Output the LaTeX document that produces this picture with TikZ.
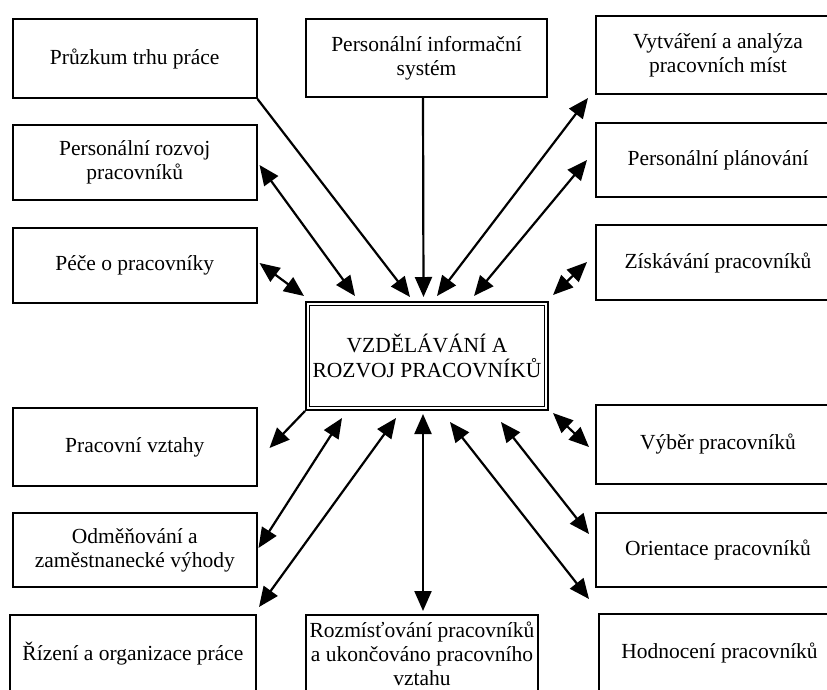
\documentclass[tikz,border=0pt]{standalone}
\usepackage{fontspec}
\setmainfont{Liberation Serif}
\usetikzlibrary{arrows.meta,calc}
\begin{document}
\begin{tikzpicture}[x=1pt,y=-1pt,
  box/.style={draw, line width=2pt, inner sep=0pt, align=center,
    font=\fontsize{21.5}{24}\selectfont},
  lbox/.style={box, minimum width=243.5pt, minimum height=78pt},
  rbox/.style={box, minimum width=244pt, minimum height=78pt},
  arr/.style={line width=2.2pt, -{Triangle[length=20pt,width=17pt]}},
  darr/.style={line width=2.2pt, {Triangle[length=20pt,width=17pt]}-{Triangle[length=20pt,width=17pt]}}]
\useasboundingbox (0,0) rectangle (827,689);
\fill[white] (0,0) rectangle (827,689);
\begin{scope}
\clip (0,0) rectangle (827,689);
% left column
\node[lbox, minimum height=79pt] (p1) at (134.75,58.5) {Průzkum trhu práce};
\node[lbox, minimum height=75pt] (p2) at (134.75,162.5) {Personální rozvoj\\pracovníků};
\node[lbox, minimum height=75pt] (p3) at (134.75,265.5) {Péče o pracovníky};
\node[lbox] (p4) at (134.75,447) {Pracovní vztahy};
\node[lbox, minimum height=74pt] (p5) at (134.75,550) {Odměňování a\\zaměstnanecké výhody};
\node[lbox, minimum width=246pt] (p6) at (133,654) {Řízení a organizace práce};
% middle column
\node[box, minimum width=241pt, minimum height=78pt] (t) at (426.5,58) {Personální informační\\systém};
\node[box, minimum width=242pt, minimum height=108pt,
  font=\fontsize{21.5}{25}\selectfont] (c) at (427,356) {VZDĚLÁVÁNÍ A\\ROZVOJ PRACOVNÍKŮ};
\draw[line width=0.9pt] ($(c.north west)+(4.5,4.5)$) rectangle ($(c.south east)+(-4.5,-4.5)$);
\node[box, minimum width=232pt, minimum height=78pt] (b) at (422,654) {Rozmísťování pracovníků\\a ukončováno pracovního\\vztahu};
% right column
\node[rbox] (r1) at (718,55) {Vytváření a analýza\\pracovních míst};
\node[rbox, minimum height=74pt] (r2) at (718,160) {Personální plánování};
\node[rbox, minimum height=75pt] (r3) at (718,262.5) {Získávání pracovníků};
\node[rbox, minimum height=79pt] (r4) at (718,444.5) {Výběr pracovníků};
\node[rbox, minimum height=74pt] (r5) at (718,550) {Orientace pracovníků};
\node[rbox, minimum width=241pt] (r6) at (719.5,653) {Hodnocení pracovníků};
\end{scope}
% connectors, upper half
\draw[arr] (p1.south east) -- ($(c.north)+(-17,-4)$);
\draw[darr] ($(p2.east)+(2,2.5)$) -- ($(c.north west)+(50,-5)$);
\draw[darr] ($(p3.east)+(2,-2.5)$) -- ($(c.north west)+(-1,-5)$);
\draw[arr] ($(t.south)+(-3.5,0)$) -- ($(c.north)+(-3.5,-4)$);
\draw[darr] ($(c.north)+(10,-5)$) -- ($(r1.south west)+(-7,3)$);
\draw[darr] ($(c.north)+(47,-5)$) -- ($(r2.west)+(-8,0)$);
\draw[darr] ($(c.north east)+(4,-6)$) -- ($(r3.west)+(-8,-0.5)$);
% connectors, lower half
\draw[arr] (c.south west) -- ($(p4.east)+(12,1)$);
\draw[darr] ($(c.south west)+(37,7)$) -- ($(p5.east)+(1,-2)$);
\draw[darr] ($(c.south west)+(91,7)$) -- ($(p6.north east)+(2,-7)$);
\draw[darr] ($(c.south)+(-4,3)$) -- ($(b.north)+(1,-3)$);
\draw[darr] ($(c.south east)+(4,2)$) -- ($(r4.west)+(-6,2.5)$);
\draw[darr] ($(c.south)+(74,11)$) -- ($(r5.west)+(-6,-16)$);
\draw[darr] ($(c.south)+(23,11)$) -- ($(r6.north west)+(-9,-14)$);
\end{tikzpicture}
\end{document}
